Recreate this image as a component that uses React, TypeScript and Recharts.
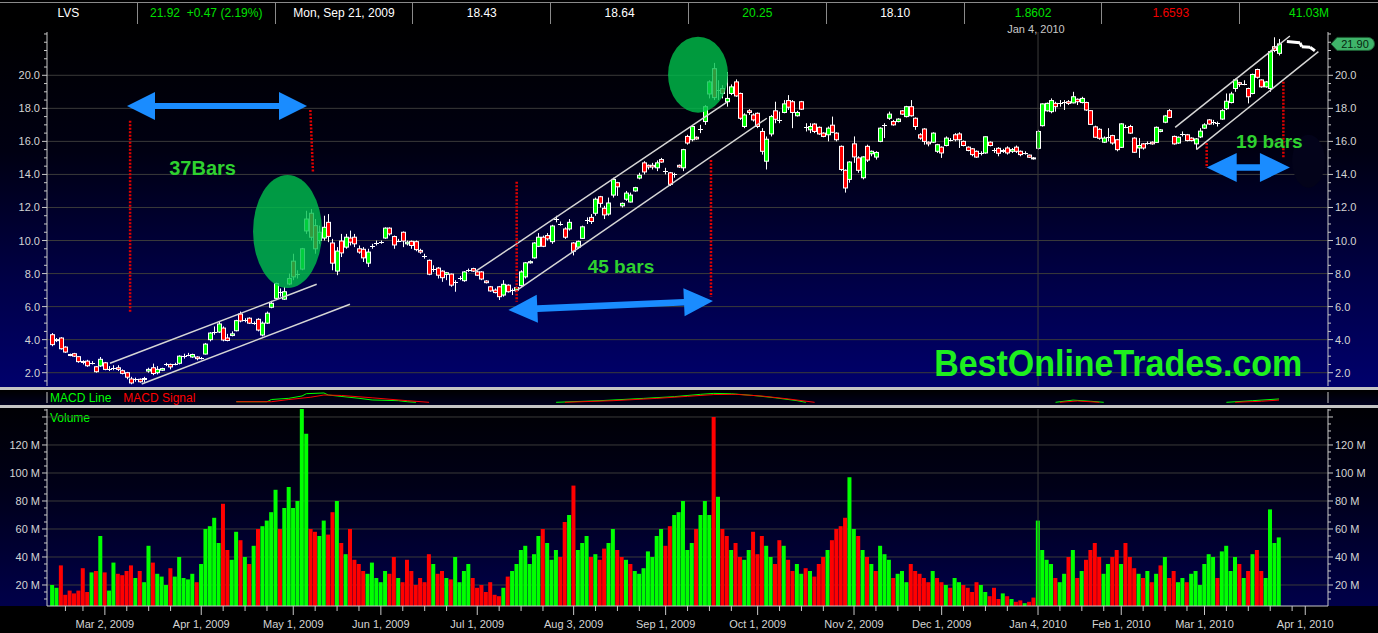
import React from "react";
import {
  ComposedChart,
  LineChart,
  Bar,
  Line,
  XAxis,
  YAxis,
  CartesianGrid,
  ReferenceLine,
  ReferenceDot,
  ReferenceArea,
  Cell,
} from "recharts";

// LVS daily candles, index 0 = Feb 11 2009 ... 280 = late Mar 2010
const opens = [
  4.3, 3.95, 4.1, 3.55, 3.1, 3.15, 2.97, 2.68, 2.7, 2.6,
  2.36, 2.41, 2.6, 2.25, 2.3, 2.3, 2.12, 2.0, 1.62, 1.6,
  1.6, 1.6, 2.1, 2.3, 2.0, 2.15, 2.5, 2.5, 2.55, 2.57,
  3.0, 3.1, 2.95, 2.95, 2.9, 3.13, 4.0, 4.45, 4.46, 4.7,
  4.1, 4.25, 4.54, 5.55, 5.2, 5.3, 5.0, 5.23, 4.28, 5.0,
  5.96, 6.5, 6.9, 6.45, 7.37, 8.75, 7.96, 8.27, 10.58, 11.65,
  10.9, 10.0, 10.15, 11.1, 9.85, 8.15, 9.97, 9.6, 10.15, 10.2,
  9.5, 9.47, 8.63, 9.67, 9.87, 9.93, 10.15, 10.75, 10.24, 10.0,
  10.5, 9.8, 9.95, 9.93, 9.4, 9.06, 8.8, 8.3, 8.33, 8.15,
  7.95, 7.97, 7.5, 7.75, 7.57, 8.2, 8.3, 8.1, 8.1, 7.55,
  7.2, 7.0, 7.2, 6.7, 7.3, 7.0, 7.0, 7.27, 7.8, 8.65,
  8.95, 9.65, 10.2, 10.3, 9.93, 11.3, 11.0, 10.7, 10.7, 9.85,
  9.6, 10.13, 11.25, 11.4, 11.65, 12.65, 11.95, 11.6, 12.75, 13.5,
  12.1, 12.5, 12.33, 13.0, 13.78, 14.7, 14.55, 14.55, 14.4, 14.9,
  14.2, 14.1, 14.0, 14.55, 14.4, 16.3, 16.1, 16.25, 16.75, 17.2,
  18.87, 20.4, 19.1, 19.2, 18.4, 18.9, 19.6, 18.9, 16.9, 17.85,
  17.6, 17.7, 16.6, 14.8, 16.45, 17.85, 17.3, 17.75, 18.47, 18.4,
  17.55, 18.4, 16.9, 16.7, 17.05, 16.85, 16.5, 16.4, 16.98, 16.5,
  15.7, 14.25, 13.7, 15.85, 15.0, 13.8, 15.7, 15.25, 15.05, 16.0,
  17.0, 17.4, 17.2, 17.2, 17.85, 17.5, 18.1, 17.4, 16.4, 16.75,
  15.95, 15.95, 15.4, 15.65, 15.75, 16.1, 16.4, 16.45, 16.0, 15.65,
  15.55, 15.4, 15.3, 15.3, 15.95, 15.5, 15.58, 15.4, 15.6, 15.4,
  15.65, 15.4, 15.3, 15.17, 15.0, 15.58, 16.95, 17.85, 17.8, 18.3,
  18.35, 18.4, 18.4, 18.33, 18.55, 18.35, 18.35, 17.86, 16.88, 16.73,
  15.95, 16.25, 16.35, 16.1, 15.64, 16.9, 16.9, 16.2, 15.6, 15.85,
  15.9, 15.95, 15.94, 16.6, 17.16, 17.86, 16.3, 15.9, 16.45, 16.4,
  16.2, 15.85, 16.27, 16.8, 17.3, 17.15, 17.1, 17.35, 17.98, 18.35,
  19.2, 19.55, 19.5, 19.2, 18.9, 20.35, 19.72, 19.3, 19.2, 21.73,
  21.33,
];
const highs = [
  4.4, 4.1, 4.15, 3.6, 3.15, 3.2, 3.0, 2.75, 2.78, 2.7,
  2.4, 2.95, 2.65, 2.4, 2.45, 2.45, 2.2, 2.05, 1.75, 1.7,
  1.65, 1.75, 2.3, 2.55, 2.4, 2.3, 2.6, 2.55, 2.6, 3.05,
  3.15, 3.2, 3.15, 3.0, 2.95, 3.8, 4.45, 4.8, 5.1, 4.8,
  4.35, 4.5, 5.2, 5.7, 5.3, 5.35, 5.1, 5.3, 5.1, 5.7,
  6.35, 7.45, 7.1, 7.2, 8.0, 9.2, 8.2, 9.55, 11.8, 11.9,
  11.3, 10.9, 11.5, 11.6, 10.1, 9.6, 10.4, 10.4, 10.6, 10.4,
  9.7, 9.6, 9.5, 9.8, 10.0, 10.0, 10.8, 10.8, 10.3, 10.1,
  10.55, 10.0, 10.0, 10.0, 9.5, 9.2, 8.85, 8.5, 8.4, 8.2,
  8.1, 8.0, 7.6, 7.85, 8.15, 8.3, 8.35, 8.15, 8.15, 7.6,
  7.25, 7.1, 7.25, 7.6, 7.35, 7.1, 7.2, 8.2, 8.7, 8.8,
  9.9, 10.45, 10.3, 10.45, 10.95, 11.5, 11.15, 10.8, 11.3, 9.9,
  10.0, 10.9, 11.4, 11.6, 12.6, 12.7, 12.1, 12.6, 13.8, 13.55,
  12.3, 13.0, 12.9, 13.25, 14.1, 14.8, 14.6, 14.7, 14.85, 15.0,
  14.4, 14.15, 14.1, 14.6, 15.55, 16.4, 16.95, 16.3, 17.0, 18.2,
  19.7, 20.75, 19.7, 19.4, 20.2, 19.45, 19.75, 18.95, 17.7, 17.95,
  17.7, 17.75, 16.8, 16.3, 17.6, 18.4, 17.8, 18.5, 18.8, 18.5,
  17.85, 18.45, 17.1, 17.1, 17.1, 16.9, 16.55, 16.9, 17.5, 16.55,
  15.75, 14.3, 14.8, 16.3, 15.1, 15.1, 15.8, 15.45, 15.4, 16.85,
  17.1, 17.8, 17.3, 17.4, 17.9, 18.15, 18.5, 17.45, 16.5, 16.8,
  16.0, 16.55, 15.85, 15.7, 16.3, 16.2, 16.5, 16.55, 16.05, 15.7,
  15.6, 15.45, 15.4, 16.3, 16.0, 15.6, 15.65, 15.55, 15.7, 15.6,
  15.75, 15.45, 15.4, 15.2, 15.05, 16.7, 18.3, 18.35, 18.6, 18.4,
  18.5, 18.5, 18.5, 19.0, 18.6, 18.7, 18.4, 17.9, 16.95, 16.8,
  16.3, 16.8, 16.4, 16.15, 17.1, 17.0, 17.0, 16.25, 16.2, 15.9,
  16.0, 16.0, 16.9, 16.75, 17.6, 17.95, 16.35, 16.3, 16.6, 16.45,
  16.25, 16.2, 16.8, 17.1, 17.35, 17.3, 17.2, 17.95, 18.9, 19.0,
  19.8, 19.6, 19.7, 19.25, 20.1, 20.4, 19.75, 19.65, 21.5, 22.3,
  22.2,
];
const lows = [
  3.6, 3.85, 3.4, 3.2, 3.0, 2.95, 2.6, 2.5, 2.35, 2.5,
  2.0, 2.35, 2.15, 2.1, 2.15, 2.1, 1.9, 1.6, 1.3, 1.45,
  1.4, 1.4, 2.0, 1.85, 1.9, 2.1, 2.4, 2.2, 2.45, 2.5,
  2.85, 3.0, 2.9, 2.75, 2.8, 3.1, 3.9, 4.3, 4.4, 3.9,
  3.9, 4.2, 4.5, 5.05, 5.05, 4.95, 4.9, 4.5, 4.2, 4.95,
  5.9, 6.4, 6.6, 6.4, 7.3, 7.6, 7.7, 8.2, 10.4, 10.0,
  9.2, 9.8, 10.0, 9.9, 8.2, 7.9, 9.0, 9.5, 9.7, 9.6,
  9.2, 8.7, 8.4, 9.5, 9.7, 9.8, 10.1, 10.3, 9.5, 9.9,
  9.6, 9.7, 9.5, 9.35, 9.2, 8.9, 7.9, 8.1, 7.7, 7.5,
  7.6, 7.2, 6.9, 7.6, 7.5, 8.1, 8.1, 7.85, 7.6, 7.4,
  6.9, 6.8, 6.4, 6.6, 6.85, 6.7, 6.9, 7.2, 7.7, 8.6,
  8.9, 9.6, 9.6, 10.0, 9.8, 11.1, 10.9, 10.1, 10.6, 9.1,
  9.5, 10.1, 11.0, 11.0, 11.5, 12.0, 11.3, 11.5, 12.6, 12.7,
  12.0, 12.4, 12.3, 12.95, 13.7, 14.0, 14.3, 14.3, 14.2, 14.7,
  14.0, 13.3, 13.8, 14.4, 14.2, 15.8, 16.0, 16.1, 16.5, 17.0,
  18.6, 18.5, 18.5, 18.6, 18.1, 18.8, 18.7, 17.3, 16.8, 17.6,
  17.2, 16.8, 15.2, 14.3, 16.3, 17.1, 17.1, 17.7, 17.9, 16.8,
  17.5, 17.9, 16.6, 16.5, 16.5, 16.4, 16.25, 16.0, 16.5, 16.0,
  14.2, 12.9, 13.5, 14.7, 14.1, 13.7, 14.75, 15.1, 14.9, 15.95,
  16.2, 17.3, 16.95, 17.15, 17.6, 17.45, 17.5, 16.7, 16.1, 15.8,
  15.7, 15.9, 15.3, 15.0, 15.7, 16.0, 16.0, 15.6, 15.7, 15.4,
  15.1, 15.0, 15.15, 15.25, 15.7, 15.3, 15.1, 15.3, 15.2, 15.3,
  15.3, 15.1, 15.2, 15.0, 14.9, 15.5, 16.9, 17.8, 17.7, 17.8,
  18.1, 17.9, 18.2, 18.3, 18.2, 18.3, 17.85, 17.0, 16.2, 16.1,
  15.9, 16.0, 15.8, 15.4, 15.6, 16.8, 16.45, 15.3, 15.0, 15.5,
  15.8, 15.8, 15.9, 16.55, 17.1, 17.4, 15.8, 15.85, 16.3, 16.0,
  16.0, 15.5, 16.2, 16.75, 17.0, 17.0, 16.9, 17.3, 17.9, 18.3,
  19.0, 19.3, 19.4, 18.3, 18.85, 19.8, 19.25, 19.25, 19.0, 21.4,
  21.2,
];
const closes = [
  3.7, 4.0, 3.45, 3.25, 3.05, 3.0, 2.67, 2.62, 2.42, 2.6,
  2.06, 2.81, 2.2, 2.25, 2.3, 2.2, 1.96, 1.73, 1.38, 1.6,
  1.45, 1.65, 2.2, 1.95, 2.2, 2.25, 2.5, 2.35, 2.55, 3.0,
  3.0, 3.1, 3.1, 2.85, 2.9, 3.73, 4.4, 4.45, 4.95, 3.98,
  3.95, 4.35, 5.15, 5.13, 5.2, 5.0, 5.0, 4.58, 5.0, 5.6,
  6.2, 7.4, 6.9, 6.9, 7.7, 7.8, 7.96, 9.5, 11.3, 10.2,
  9.5, 10.5, 10.8, 10.25, 8.63, 9.36, 9.25, 10.2, 9.9, 9.8,
  9.3, 8.95, 9.3, 9.67, 9.87, 9.93, 10.75, 10.4, 9.73, 10.0,
  9.97, 9.9, 9.7, 9.45, 9.3, 9.06, 7.96, 8.3, 7.9, 7.75,
  8.05, 7.3, 7.5, 7.75, 8.1, 8.2, 8.15, 7.9, 7.67, 7.45,
  6.95, 6.85, 6.6, 7.35, 6.9, 7.0, 7.15, 8.1, 8.65, 8.72,
  9.85, 10.2, 9.65, 10.1, 10.88, 11.3, 11.0, 10.2, 11.1, 9.35,
  9.95, 10.83, 11.25, 11.15, 12.5, 12.25, 11.55, 12.27, 13.7, 13.25,
  12.25, 12.87, 12.75, 13.2, 13.95, 14.15, 14.45, 14.45, 14.7, 14.75,
  14.2, 13.4, 14.0, 14.45, 15.5, 15.9, 16.9, 16.15, 16.75, 18.1,
  19.6, 18.65, 19.1, 18.9, 18.6, 19.3, 18.75, 17.4, 17.6, 17.75,
  17.3, 16.9, 15.4, 16.13, 17.5, 17.34, 17.3, 18.27, 18.07, 17.75,
  17.75, 17.95, 16.9, 16.9, 16.6, 16.45, 16.3, 16.8, 16.55, 16.1,
  14.3, 13.18, 14.75, 15.06, 14.25, 15.06, 14.87, 15.4, 15.33, 16.8,
  17.0, 17.65, 17.0, 17.35, 17.65, 18.1, 17.55, 16.9, 16.2, 16.0,
  15.85, 16.5, 15.8, 15.3, 16.2, 16.1, 16.1, 16.1, 15.75, 15.45,
  15.2, 15.05, 15.3, 16.28, 15.75, 15.5, 15.28, 15.45, 15.3, 15.5,
  15.4, 15.2, 15.3, 15.04, 14.95, 16.6, 18.27, 18.3, 18.47, 18.1,
  18.35, 18.4, 18.3, 18.7, 18.4, 18.6, 17.9, 17.03, 16.25, 16.19,
  16.2, 16.25, 15.9, 15.5, 17.06, 16.9, 16.5, 15.34, 15.75, 15.6,
  15.9, 15.85, 16.85, 16.7, 17.54, 17.45, 15.85, 16.25, 16.45, 16.05,
  16.05, 16.15, 16.62, 17.0, 17.05, 17.15, 17.1, 17.86, 18.43, 18.87,
  19.72, 19.45, 19.5, 18.7, 20.05, 19.88, 19.3, 19.6, 21.43, 21.5,
  21.9,
];
// daily volume, millions
const volumes = [
  20, 18, 34, 13, 16, 14, 16, 32, 15, 29,
  30, 55, 29, 16, 36, 28, 27, 30, 34, 25,
  30, 22, 48, 36, 28, 26, 20, 32, 26, 40,
  25, 24, 28, 22, 35, 60, 62, 68, 50, 78,
  45, 38, 58, 52, 40, 35, 48, 60, 62, 66,
  72, 88, 60, 75, 90, 75, 80, 148, 128, 60,
  58, 55, 66, 56, 72, 80, 50, 42, 60, 38,
  35, 30, 28, 36, 25, 22, 30, 28, 40, 25,
  22, 38, 30, 20, 25, 22, 42, 35, 28, 30,
  25, 24, 40, 22, 30, 35, 25, 18, 20, 15,
  22, 13, 12, 18, 26, 30, 35, 45, 48, 35,
  42, 55, 60, 50, 38, 45, 40, 65, 70, 91,
  45, 50, 55, 40, 42, 38, 46, 50, 60, 45,
  40, 38, 35, 30, 28, 32, 44, 40, 55, 60,
  48, 62, 70, 72, 80, 45, 50, 60, 70, 80,
  70, 140, 83, 60, 55, 45, 50, 40, 38, 45,
  58, 42, 55, 48, 40, 35, 52, 48, 38, 30,
  35, 28, 32, 30, 26, 35, 40, 45, 52, 60,
  62, 68, 97, 60, 55, 45, 40, 35, 30, 48,
  42, 38, 25, 28, 30, 22, 35, 30, 28, 25,
  22, 30, 25, 22, 20, 18, 25, 22, 20, 18,
  15, 22, 20, 15, 12, 18, 10, 14, 12, 10,
  8, 9, 7, 8, 11, 66, 45, 38, 35, 25,
  22, 28, 40, 45, 25, 30, 38, 45, 50, 40,
  28, 35, 40, 45, 35, 50, 40, 32, 28, 25,
  30, 22, 28, 34, 40, 25, 30, 22, 25, 22,
  28, 30, 20, 35, 42, 40, 25, 44, 48, 30,
  40, 35, 25, 30, 42, 45, 30, 25, 74, 50,
  54,
];
// MACD pieces that show inside the thin panel: [bar index, value]
const macdLineSegs = [
  [[42, 0.42], [49, 0.42], [50, 0.8], [54, 1.01], [57, 1.41], [58, 1.81], [62, 1.93], [63, 1.58], [65, 1.41], [70, 1.01], [73, 0.72], [79, 0.6], [81, 0.42], [83, 0.32]],
  [[115, 0.32], [125, 0.6], [135, 1.0], [142, 1.3], [148, 1.7], [151, 1.86], [155, 1.8], [160, 1.5], [165, 1.1], [170, 0.6], [172, 0.32]],
  [[229, 0.32], [233, 0.7], [237, 0.5], [240, 0.32]],
  [[268, 0.32], [274, 0.6], [280, 0.9]],
];
const macdSignalSegs = [
  [[42, 0.42], [50, 0.42], [54, 0.8], [59, 1.2], [62, 1.58], [66, 1.5], [73, 1.1], [81, 0.6], [86, 0.32]],
  [[117, 0.32], [128, 0.6], [138, 1.0], [145, 1.35], [151, 1.66], [156, 1.7], [162, 1.4], [168, 0.9], [174, 0.32]],
  [[230, 0.32], [234, 0.55], [239, 0.32]],
  [[270, 0.32], [276, 0.5], [280, 0.7]],
];

const monthTicks = [12, 34, 55, 75, 97, 119, 140, 161, 183, 203, 225, 244, 263, 286];
const monthLabels = [
  "Mar 2, 2009", "Apr 1, 2009", "May 1, 2009", "Jun 1, 2009", "Jul 1, 2009", "Aug 3, 2009", "Sep 1, 2009",
  "Oct 1, 2009", "Nov 2, 2009", "Dec 1, 2009", "Jan 4, 2010", "Feb 1, 2010", "Mar 1, 2010", "Apr 1, 2010",
];
const priceLabels = [2, 4, 6, 8, 10, 12, 14, 16, 18, 20];
const volumeLabels = [20, 40, 60, 80, 100, 120];

const headerCells = ["LVS", "21.92\u00a0 +0.47 (2.19%)", "Mon, Sep 21, 2009", "18.43", "18.64", "20.25", "18.10", "1.8602", "1.6593", "41.03M"];
const headerColors = ["#fff", "#00e000", "#fff", "#fff", "#fff", "#00e000", "#fff", "#00e000", "#f00000", "#00e000"];

// drawn-on annotations, in (bar index, price)
const channelLines = [
  [[13.17, 2.57], [60.35, 7.35]],
  [[20.41, 1.32], [67.95, 6.14]],
  [[96.5, 8.11], [154.0, 18.38]],
  [[105.6, 6.9], [163.1, 17.4]],
  [[256.3, 16.85], [282.5, 22.38]],
  [[261.2, 15.52], [289.0, 21.43]],
];
const dottedLines = [
  [[17.76, 17.25], [17.76, 5.66]],
  [[58.9, 17.9], [59.5, 14.14]],
  [[106.0, 13.56], [106.0, 6.3]],
  [[150.35, 14.87], [150.35, 6.58]],
  [[263.5, 15.9], [263.5, 14.39]],
  [[281.0, 19.61], [281.0, 14.98]],
];
const arrowLines = [
  [[17.05, 18.14], [58.14, 18.14]],
  [[104.1, 5.8], [150.8, 6.34]],
  [[263.5, 14.42], [282.5, 14.42]],
];
const squiggle = [[281.8, 22.04], [284.8, 21.97], [285.2, 21.73], [287.1, 21.7], [288.2, 21.49]];

const W = 1378;
const X_DOMAIN: [number, number] = [-1.21, 291.19];
const P_DOMAIN: [number, number] = [1.195, 22.62];
const V_DOMAIN: [number, number] = [5, 145.7];
const M_DOMAIN: [number, number] = [0.2, 2.1];
const GREEN = "#00ff00";
const RED = "#ff0000";
const BLUE = "#1a8cff";
const AX = "#c8c8c8";
const GRID = "#3a3a3a";

const candles = opens.map((o, i) => ({ i, o, h: highs[i], l: lows[i], c: closes[i], range: [lows[i], highs[i]] }));
const vols = volumes.map((v, i) => ({ i, v, up: i === 0 || closes[i] >= closes[i - 1] }));

const priceTicks: number[] = [];
for (let v = 1.5; v <= 22.5; v += 0.5) priceTicks.push(v);
const volTicks: number[] = [];
for (let v = 10; v <= 145; v += 5) volTicks.push(v);
const dateTicks: number[] = [3, 7];
monthTicks.forEach((m, k) => {
  dateTicks.push(m);
  const next = monthTicks[k + 1] ?? 291;
  for (let t = m + 5; t < next - 2; t += 5) dateTicks.push(t);
});

function Candle(props: any) {
  const { x, y, width, height, payload } = props;
  if (x == null || !payload) return null;
  const { o, h, l, c } = payload;
  const top = Math.min(y, y + height);
  const bot = Math.max(y, y + height);
  const span = h - l || 1;
  const py = (v: number) => top + ((h - v) / span) * (bot - top);
  const cx = Math.round(x + width / 2);
  const yo = py(o);
  const yc = py(c);
  const doji = Math.abs(o - c) < 0.03;
  return (
    <g>
      <line x1={cx + 0.5} x2={cx + 0.5} y1={top} y2={bot} stroke="#fff" />
      {doji ? (
        <line x1={cx - 2} x2={cx + 3} y1={Math.round(yo) + 0.5} y2={Math.round(yo) + 0.5} stroke="#fff" />
      ) : (
        <rect x={cx - 1.5} y={Math.min(yo, yc)} width={4} height={Math.max(Math.abs(yc - yo), 1)} fill={c > o ? GREEN : RED} stroke="#fff" />
      )}
    </g>
  );
}

const makeArrow = (head: number, half: number, shaft: number) => (p: any) => {
  const { x1, y1, x2, y2 } = p;
  const dx = x2 - x1;
  const dy = y2 - y1;
  const len = Math.hypot(dx, dy) || 1;
  const ux = dx / len, uy = dy / len, nx = -uy, ny = ux;
  const pt = (s: number, n: number) => `${x1 + ux * s + nx * n},${y1 + uy * s + ny * n}`;
  const pts = [
    pt(0, 0), pt(head, half), pt(head, shaft), pt(len - head, shaft), pt(len - head, half),
    pt(len, 0), pt(len - head, -half), pt(len - head, -shaft), pt(head, -shaft), pt(head, -half),
  ];
  return <polygon points={pts.join(" ")} fill={BLUE} />;
};
const arrowShapes = [makeArrow(28, 14, 3), makeArrow(29, 14, 3.3), makeArrow(30, 14.5, 3.3)];

const textShape = (t: string, size: number, fill: string, len?: number) => (p: any) => (
  <text
    x={p.cx}
    y={p.cy}
    textAnchor="middle"
    dominantBaseline="central"
    fontSize={size}
    fontWeight="bold"
    fill={fill}
    {...(len ? { textLength: len, lengthAdjust: "spacingAndGlyphs" } : {})}
  >
    {t}
  </text>
);

const ellipseShape = (rx: number, ry: number) => (p: any) => (
  <ellipse cx={p.cx} cy={p.cy} rx={rx} ry={ry} style={{ fill: "#00c04c", fillOpacity: 0.8 }} />
);

const priceTag = (p: any) => {
  const x = p.cx;
  const y = p.cy;
  return (
    <g>
      <path d={`M${x + 3},${y} L${x + 9},${y - 6.5} H${x + 40} A6.5 6.5 0 0 1 ${x + 40},${y + 6.5} H${x + 9} Z`} fill="#3fb46a" stroke="#1d5c33" />
      <text x={x + 27} y={y + 4} textAnchor="middle" fontSize={11} fill="#07250f">21.90</text>
    </g>
  );
};

const blobShape = (p: any) => (
  <ellipse cx={p.x + p.width / 2} cy={p.y + p.height / 2} rx={p.width / 2} ry={p.height / 2} fill="#03031a" />
);

const AxisTick = (props: any) => {
  const { x, y, payload, side, labels, fmt } = props;
  const v = payload.value;
  const labeled = labels.includes(v);
  const major = labeled || v % 20 === 0;
  const dir = side === "left" ? -1 : 1;
  const len = major ? 5 : 3;
  return (
    <g>
      <line x1={x} x2={x + dir * len} y1={y} y2={y} stroke={AX} />
      {labeled && (
        <text x={x + dir * 7} y={y} dy={4} textAnchor={side === "left" ? "end" : "start"} fontSize={11} fill="#d4d4d4">
          {fmt(v)}
        </text>
      )}
    </g>
  );
};

const DateTick = (props: any) => {
  const { x, y, payload } = props;
  const k = monthTicks.indexOf(payload.value);
  return (
    <g>
      <line x1={x} x2={x} y1={y} y2={y + (k >= 0 ? 9 : 5)} stroke={AX} />
      {k >= 0 && (
        <text x={x} y={y + 22} textAnchor="middle" fontSize={11} fill="#d4d4d4">
          {monthLabels[k]}
        </text>
      )}
    </g>
  );
};

const priceFmt = (v: number) => v.toFixed(1);
const volFmt = (v: number) => `${v} M`;

export default function App() {
  return (
    <div
      style={{
        position: "absolute",
        left: 0,
        top: 0,
        width: W,
        height: 633,
        background: "#000",
        overflow: "hidden",
        fontFamily: "'Liberation Sans', Arial, sans-serif",
      }}
    >
      {/* quote header */}
      <div style={{ position: "absolute", left: 0, top: 2, width: W, height: 21, borderTop: "1px solid #8a8a8a", borderBottom: "1px solid #8a8a8a", display: "flex" }}>
        {headerCells.map((t, k) => (
          <div
            key={k}
            style={{
              width: 137.8,
              height: 21,
              lineHeight: "21px",
              textAlign: "center",
              fontSize: 12,
              color: headerColors[k],
              borderRight: k < 9 ? "1px solid #8a8a8a" : "none",
              boxSizing: "border-box",
            }}
          >
            {t}
          </div>
        ))}
      </div>

      {/* price panel */}
      <div style={{ position: "absolute", left: 0, top: 24, width: W, height: 363, background: "linear-gradient(to bottom, #000 0%, #000012 35%, #000045 70%, #00006c 100%)" }}>
        <div style={{ position: "absolute", left: 986, top: -1, width: 100, textAlign: "center", fontSize: 11, color: "#c8c8c8" }}>Jan 4, 2010</div>
        <ComposedChart width={W} height={362} data={candles} margin={{ top: 8, right: 0, bottom: 0, left: 0 }}>
          <CartesianGrid yAxisId="R" vertical={false} horizontalValues={priceLabels} stroke={GRID} />
          <XAxis type="number" dataKey="i" domain={X_DOMAIN} allowDataOverflow hide />
          <YAxis yAxisId="L" orientation="left" width={47} type="number" domain={P_DOMAIN} allowDataOverflow ticks={priceTicks} interval={0} tickSize={0} tickMargin={0} tickLine={false} axisLine={{ stroke: AX }} tick={<AxisTick side="left" labels={priceLabels} fmt={priceFmt} />} />
          <YAxis yAxisId="R" orientation="right" width={50} type="number" domain={P_DOMAIN} allowDataOverflow ticks={priceTicks} interval={0} tickSize={0} tickMargin={0} tickLine={false} axisLine={{ stroke: AX }} tick={<AxisTick side="right" labels={priceLabels} fmt={priceFmt} />} />
          <ReferenceArea yAxisId="R" x1={283} x2={290.5} y1={13.2} y2={16.4} shape={blobShape} ifOverflow="visible" />
          <ReferenceLine yAxisId="R" x={225} stroke={GRID} />
          <Bar yAxisId="R" dataKey="range" barSize={5} shape={Candle} isAnimationActive={false} />
          {channelLines.map((s, k) => (
            <ReferenceLine key={`ch${k}`} yAxisId="R" ifOverflow="visible" segment={[{ x: s[0][0], y: s[0][1] }, { x: s[1][0], y: s[1][1] }]} stroke="#d6d6d6" strokeWidth={1.5} />
          ))}
          {dottedLines.map((s, k) => (
            <ReferenceLine key={`dl${k}`} yAxisId="R" ifOverflow="visible" segment={[{ x: s[0][0], y: s[0][1] }, { x: s[1][0], y: s[1][1] }]} stroke="#e00000" strokeWidth={2.5} strokeDasharray="2 1.5" />
          ))}
          {squiggle.slice(1).map((pnt, k) => (
            <ReferenceLine key={`sq${k}`} yAxisId="R" ifOverflow="visible" segment={[{ x: squiggle[k][0], y: squiggle[k][1] }, { x: pnt[0], y: pnt[1] }]} stroke="#fff" strokeWidth={3} />
          ))}
          {arrowLines.map((s, k) => (
            <ReferenceLine key={`ar${k}`} yAxisId="R" ifOverflow="visible" segment={[{ x: s[0][0], y: s[0][1] }, { x: s[1][0], y: s[1][1] }]} shape={arrowShapes[k]} />
          ))}
          <ReferenceDot yAxisId="R" x={53.7} y={10.55} r={1} ifOverflow="visible" shape={ellipseShape(34.5, 56.5)} />
          <ReferenceDot yAxisId="R" x={147.4} y={20.04} r={1} ifOverflow="visible" shape={ellipseShape(30, 38)} />
          <ReferenceDot yAxisId="R" x={34.3} y={14.39} r={1} ifOverflow="visible" shape={textShape("37Bars", 20, "#2fd12f")} />
          <ReferenceDot yAxisId="R" x={129.8} y={8.4} r={1} ifOverflow="visible" shape={textShape("45 bars", 19, "#2fd12f")} />
          <ReferenceDot yAxisId="R" x={277.8} y={16.02} r={1} ifOverflow="visible" shape={textShape("19 bars", 19, "#2fd12f")} />
          <ReferenceDot yAxisId="R" x={243.3} y={2.55} r={1} ifOverflow="visible" shape={textShape("BestOnlineTrades.com", 37, "#1ef01e", 368)} />
          <ReferenceDot yAxisId="R" x={X_DOMAIN[1]} y={21.9} r={1} ifOverflow="visible" shape={priceTag} />
        </ComposedChart>
      </div>

      <div style={{ position: "absolute", left: 0, top: 387, width: W, height: 3, background: "#c4c4c4" }} />

      {/* MACD strip */}
      <div style={{ position: "absolute", left: 0, top: 390, width: W, height: 15, overflow: "hidden", background: "linear-gradient(to bottom, #000 0%, #00001e 100%)" }}>
        <div style={{ position: "absolute", left: 50, top: 1, fontSize: 12, lineHeight: "15px", whiteSpace: "nowrap" }}>
          <span style={{ color: GREEN }}>MACD Line</span>
          <span style={{ color: RED, marginLeft: 12 }}>MACD Signal</span>
        </div>
        <LineChart width={W} height={15} margin={{ top: 2, right: 0, bottom: 2, left: 0 }}>
          <XAxis type="number" dataKey="i" domain={X_DOMAIN} allowDataOverflow hide />
          <YAxis yAxisId="L" orientation="left" width={47} domain={M_DOMAIN} allowDataOverflow tick={false} tickLine={false} axisLine={{ stroke: AX }} />
          <YAxis yAxisId="R" orientation="right" width={50} domain={M_DOMAIN} allowDataOverflow tick={false} tickLine={false} axisLine={{ stroke: AX }} />
          {macdLineSegs.map((seg, k) => (
            <Line key={`ml${k}`} yAxisId="R" data={seg.map(([i, v]) => ({ i, v }))} dataKey="v" stroke={GREEN} strokeWidth={1} dot={false} isAnimationActive={false} />
          ))}
          {macdSignalSegs.map((seg, k) => (
            <Line key={`ms${k}`} yAxisId="R" data={seg.map(([i, v]) => ({ i, v }))} dataKey="v" stroke={RED} strokeWidth={1} dot={false} isAnimationActive={false} />
          ))}
        </LineChart>
      </div>

      <div style={{ position: "absolute", left: 0, top: 405, width: W, height: 3, background: "#c4c4c4" }} />

      {/* volume panel */}
      <div style={{ position: "absolute", left: 0, top: 408, width: W, height: 198, background: "linear-gradient(to bottom, #000004 0%, #000018 40%, #00004a 100%)" }} />
      <div style={{ position: "absolute", left: 0, top: 408, width: W, height: 225 }}>
        <div style={{ position: "absolute", left: 50, top: 3, fontSize: 12, color: GREEN }}>Volume</div>
        <ComposedChart width={W} height={225} data={vols} margin={{ top: 1, right: 0, bottom: 0, left: 0 }}>
          <CartesianGrid yAxisId="R" vertical={false} horizontalValues={[20, 40, 60, 80, 100, 120, 140]} stroke={GRID} />
          <XAxis type="number" dataKey="i" domain={X_DOMAIN} allowDataOverflow ticks={dateTicks} interval={0} height={27} tickSize={0} tickMargin={0} tickLine={false} axisLine={{ stroke: AX }} tick={<DateTick />} />
          <YAxis yAxisId="L" orientation="left" width={47} type="number" domain={V_DOMAIN} allowDataOverflow ticks={volTicks} interval={0} tickSize={0} tickMargin={0} tickLine={false} axisLine={{ stroke: AX }} tick={<AxisTick side="left" labels={volumeLabels} fmt={volFmt} />} />
          <YAxis yAxisId="R" orientation="right" width={50} type="number" domain={V_DOMAIN} allowDataOverflow ticks={volTicks} interval={0} tickSize={0} tickMargin={0} tickLine={false} axisLine={{ stroke: AX }} tick={<AxisTick side="right" labels={volumeLabels} fmt={volFmt} />} />
          <ReferenceLine yAxisId="R" x={225} stroke={GRID} />
          <Bar yAxisId="R" dataKey="v" barSize={4} isAnimationActive={false}>
            {vols.map((d) => (
              <Cell key={d.i} fill={d.up ? GREEN : RED} />
            ))}
          </Bar>
        </ComposedChart>
      </div>
    </div>
  );
}
